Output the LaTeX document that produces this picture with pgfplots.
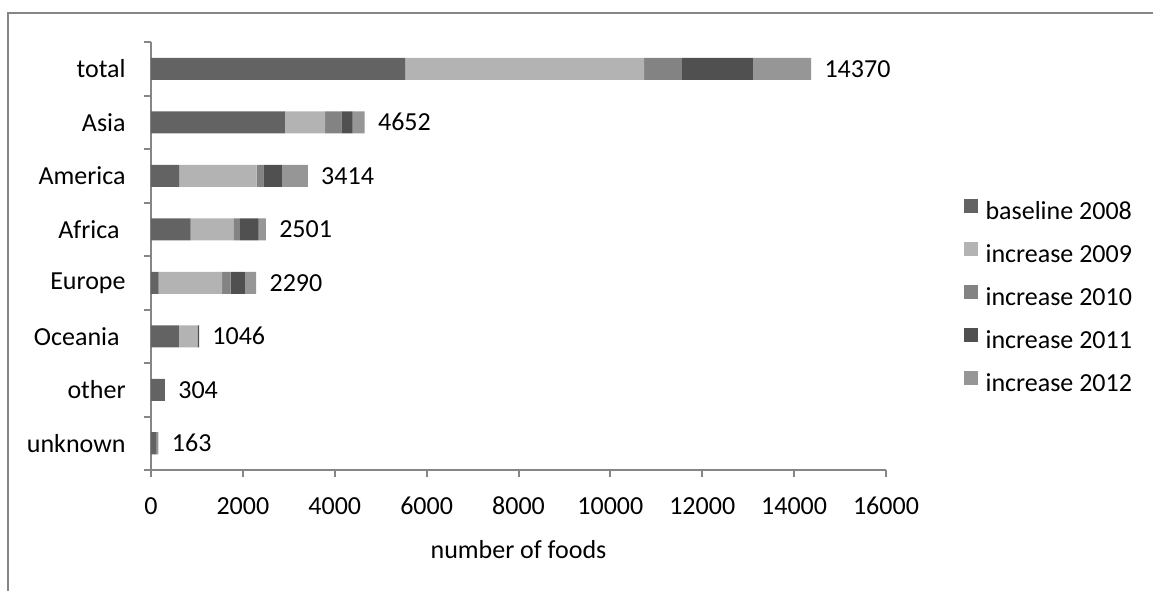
\documentclass[border=0pt]{standalone}
\usepackage{pgfplots}
\usepackage{pgfplotstable}
\pgfplotsset{compat=1.18}
\usepackage{fontspec}
\setmainfont{Carlito}
\definecolor{cA}{HTML}{636363}
\definecolor{cB}{HTML}{B3B3B3}
\definecolor{cC}{HTML}{838383}
\definecolor{cD}{HTML}{505050}
\definecolor{cE}{HTML}{969696}
\definecolor{axisgray}{HTML}{868686}
\pgfplotstableread{
cat base i09 i10 i11 i12 tot
7 5535 5201 818 1546 1270 14370
6 2915 877 350 249 261 4652
5 617 1685 146 399 567 3414
4 860 934 138 409 160 2501
3 166 1380 190 307 247 2290
2 606 404 10 26 0 1046
1 304 0 0 0 0 304
0 120 0 0 0 43 163
}\data
\begin{document}
\fontsize{13}{15.6}\selectfont
\begin{tikzpicture}
\useasboundingbox (0,0) rectangle (576.5pt,295pt);
\draw[axisgray, line width=1pt] (4pt,-2pt) -- (4pt,288.5pt) -- (580pt,288.5pt);
\begin{axis}[
  at={(75.5pt,60pt)}, anchor=south west,
  scale only axis, width=367.5pt, height=214pt,
  xbar stacked, bar width=11pt,
  xmin=0, xmax=16000, ymin=-0.5, ymax=7.5,
  xtick={0,2000,...,16000},
  ytick={0,...,7},
  yticklabels={unknown,other,Oceania\kern3pt,Europe,Africa\kern3pt,America,Asia,total},
  minor ytick={-0.5,0.5,...,7.5},
  major y tick style={draw=none},
  axis x line*=bottom, axis y line*=left,
  axis line style={axisgray, line width=1pt},
  every tick/.style={axisgray, line width=1pt},
  tick align=outside,
  major tick length=3.5pt, minor tick length=3.5pt,
  /pgf/number format/assume math mode=true,
  /pgf/number format/1000 sep={},
  scaled x ticks=false,
  xticklabel style={inner sep=0pt, anchor=base, yshift=-19pt},
  yticklabel style={inner sep=0pt, anchor=east, xshift=-9pt},
  xlabel={number of foods},
  xlabel style={at={(axis description cs:0.5,-0.187)}, anchor=center, inner sep=0pt},
  legend style={at={(rel axis cs:1.105,0.634)}, anchor=north west, draw=none, fill=none, inner sep=0pt,
    row sep=8.5pt, column sep=4pt, nodes={inner sep=0pt, text height=9pt, text depth=3pt}},
  legend cell align=left,
  legend image code/.code={\fill[#1] (0pt,0pt) rectangle (7pt,7pt);},
]
\addplot[fill=cA, draw=none] table[x=base, y=cat] {\data};
\addplot[fill=cB, draw=none] table[x=i09, y=cat] {\data};
\addplot[fill=cC, draw=none] table[x=i10, y=cat] {\data};
\addplot[fill=cD, draw=none] table[x=i11, y=cat] {\data};
\addplot[fill=cE, draw=none] table[x=i12, y=cat] {\data};
\legend{baseline 2008, increase 2009, increase 2010, increase 2011, increase 2012}
\end{axis}
\begin{axis}[
  at={(75.5pt,60pt)}, anchor=south west,
  scale only axis, width=367.5pt, height=214pt,
  xmin=0, xmax=16000, ymin=-0.5, ymax=7.5,
  hide axis,
  /pgf/number format/assume math mode=true,
  /pgf/number format/1000 sep={},
]
\addplot[only marks, mark=none, nodes near coords, point meta=explicit,
  nodes near coords style={anchor=west, xshift=6.5pt, inner sep=0pt, text=black}]
  table[x=tot, y=cat, meta=tot] {\data};
\end{axis}
\end{tikzpicture}
\end{document}
